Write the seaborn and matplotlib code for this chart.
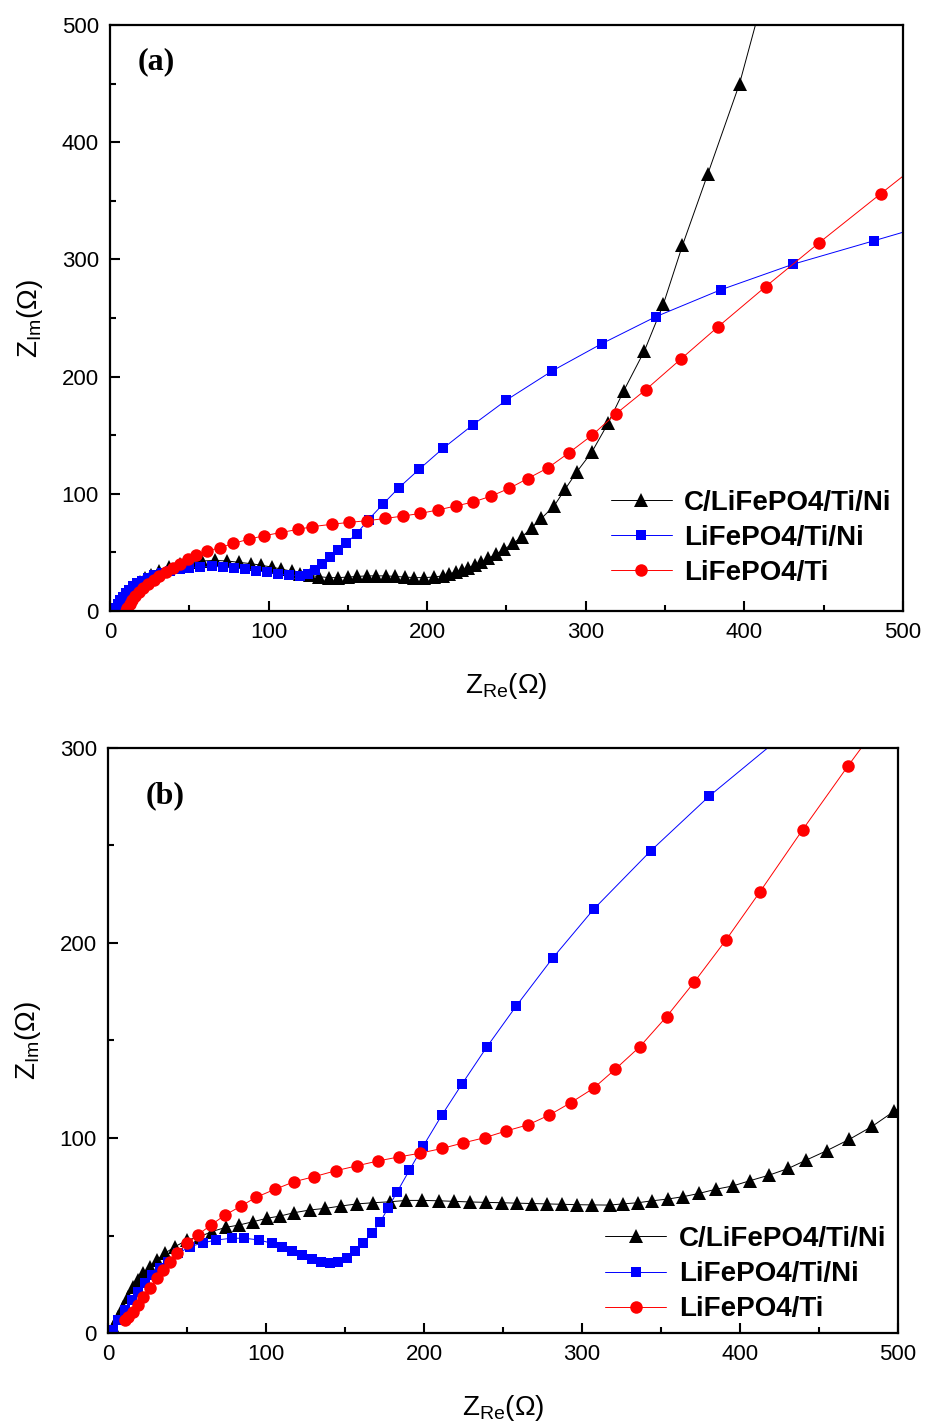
import numpy as np
import pandas as pd
import matplotlib
matplotlib.use("Agg")
import matplotlib.pyplot as plt
from matplotlib.ticker import MultipleLocator
import seaborn as sns

# ---- panel (a) data ----
a_black_x = [6, 7, 8.5, 10, 12, 14, 16.5, 19, 22, 26, 31, 37, 44, 51, 58, 66, 74, 81.5, 89, 95.5,
             102, 108, 114.5, 120, 126, 132, 138, 144, 150, 156, 162, 168, 174, 180, 186, 192, 198,
             204, 210, 214, 218, 222, 226, 230, 234, 238.5, 243.5, 248.5, 254, 259.5, 266, 272, 280,
             287, 294.5, 304, 314, 324, 337, 349, 361, 377, 397, 420]
a_black_y = [0, 3, 7, 11, 15, 19, 22, 25, 28, 31, 34, 37.5, 40, 41.5, 42.7, 43.2, 42.7, 41.5, 40.4, 39,
             37.5, 35.8, 34, 32, 30.5, 29.3, 28.5, 28.5, 29, 29.5, 30, 30, 30, 29.5, 29, 28.5, 28.5,
             29, 30, 31.5, 33.5, 35, 37, 39, 41.5, 45, 48.6, 52.6, 57.7, 63, 71, 79, 89.6,
             104, 119, 136, 160, 188, 222, 262, 312, 373, 450, 565]

a_blue_x = [3, 4, 5, 6.5, 8, 10, 12, 14.5, 17, 20, 24, 28, 33, 38, 44, 50, 57, 64, 71, 78, 85, 92, 99,
            106, 113, 120, 125, 129, 133.5, 138.7, 144, 149, 155.5, 163, 172, 182, 195, 210, 229,
            250, 279, 310, 344, 385, 431, 482, 530]
a_blue_y = [0, 3, 6, 9, 12, 15, 18, 21, 23.5, 26, 28.5, 30.5, 32.5, 34.5, 36, 37, 37.7, 38, 37.8, 37,
            35.8, 34.5, 33, 31.7, 30.7, 30.3, 31.5, 35, 40, 46, 52, 58, 66, 78, 91, 105, 121, 138.8,
            159, 180, 205, 228, 251, 274, 296, 316, 335]

a_red_x = [10, 11, 12.5, 14, 16, 18.5, 21, 24, 27.5, 31, 35, 39.5, 44, 49, 54, 61, 69.4, 77.7, 87.8,
           97.3, 107.8, 118.7, 127.6, 139.8, 151, 161.8, 173.6, 184.5, 195.7, 206.6, 217.9, 229,
           240.2, 251.8, 263.3, 276, 289.4, 304, 318.8, 338, 360, 383.5, 413.4, 447, 486, 530]
a_red_y = [0, 3, 6, 9, 12.5, 16, 19.5, 23, 26.5, 30, 33.5, 37, 40.5, 44, 47.8, 51.2, 54, 57.7, 61.4,
           64.3, 67, 69.7, 72, 74, 75.7, 77, 79, 81, 83.3, 86.2, 89.6, 93,
           98, 104.7, 113, 122, 135, 150, 168, 189, 215, 242.6, 276.7, 314, 356, 403]

# ---- panel (b) data ----
b_black_x = [2.5, 3.4, 6.5, 9.7, 12.9, 16, 19.2, 22.3, 26.6, 30.8, 36.1, 42.4, 50.2, 58.2, 65.6, 74.7,
             83.1, 91.9, 100.4, 108.9, 117.9, 127.8, 137.3, 147.3, 157.4, 167.7, 178.5, 188.8, 198.8,
             209.8, 219.3, 229.1, 239.2, 249.2, 258.7, 268.2, 278.1, 287.6, 296.7, 306.2, 317.5,
             325.7, 335.3, 344.5, 354.2, 364, 374.2, 384.6, 395.4, 406.3, 418.6, 430.6, 442, 454.9,
             469.2, 483.7, 497.7, 512]
b_black_y = [0, 3.2, 8.4, 13.5, 18.6, 23.7, 27.2, 30.6, 34, 37.4, 40.9, 44.3, 47.7, 49.4, 52, 54.2,
             55.4, 57.1, 58.8, 60, 61.7, 63.1, 63.9, 65.1, 66.2, 66.8, 67.3, 68, 68,
             67.8, 67.5, 67.2, 67, 66.8, 66.6, 66.4, 66.2, 66, 65.8, 65.7, 65.6,
             66.2, 66.8, 67.8, 68.7, 69.9, 71.6, 73.7, 75.4, 78.1, 81, 84.4, 88.7, 93.5,
             99.3, 106, 113.8, 122]

b_blue_x = [2, 3.4, 6.5, 10.8, 15, 19.2, 23.4, 27.7, 32.9, 38.2, 44.5, 51.9, 60.3, 68.4, 78.3, 86.3,
            95.8, 103.6, 110, 116.3, 122.6, 129.3, 134.8, 140.5, 145.8, 151.1, 156.3, 161.6, 166.9,
            172.2, 177.1, 183.1, 190.7, 199.6, 211.2, 224, 239.7, 258.4, 281.4, 307.5, 343.6,
            380.7, 425]
b_blue_y = [0, 1.5, 6.7, 11.8, 16.9, 21.2, 25.5, 29.7, 33.2, 36.6, 40.9, 44.3, 46.3, 47.7, 48.6, 48.6,
            47.7, 46, 44.3, 42.2, 40, 37.8, 36.6, 35.7, 36.3, 38.3, 42.2, 46.3, 51.1,
            56.8, 63.9, 72.5, 83.4, 96, 111.6, 127.6, 146.6, 167.7, 192.2, 217.4, 247.3,
            275.4, 305]

b_red_x = [10.8, 12.9, 16, 19.2, 22.3, 26.6, 30.8, 35, 39.2, 43.9, 50.2, 56.8, 65.2, 74.1, 84.2, 93.7,
           105.7, 117.9, 130.6, 144.1, 157.4, 170.7, 184.2, 197.5, 211.7, 224.9, 238.6, 252, 266,
           279.4, 292.9, 307.3, 321.1, 336.6, 353.5, 370.9, 391.1, 412.7, 439.6, 468.4, 495]
b_red_y = [6.7, 8.4, 10.9, 14.4, 18.6, 22.9, 28.1, 32.3, 36.6, 41.2, 46, 50.3, 55.4, 60.5, 65.1, 69.6,
           73.7, 77.6, 80.2, 83.2, 85.7, 88.2, 90.3, 92.2, 94.7, 97.5, 100.2, 103.6, 106.8,
           111.8, 118.1, 125.5, 135.3, 146.8, 162.2, 179.8, 201.5, 226.3, 258, 290.8, 320]

labels = ["C/LiFePO4/Ti/Ni", "LiFePO4/Ti/Ni", "LiFePO4/Ti"]
colors = ["#000000", "#0000ff", "#ff0000"]
markers = ["^", "s", "o"]
msizes = [10, 7.5, 9]

sns.set_style("ticks")
plt.rcParams["font.family"] = ["Liberation Sans", "DejaVu Sans"]
plt.rcParams["mathtext.fontset"] = "custom"
plt.rcParams["mathtext.rm"] = "Liberation Sans"
for k in ["text.color", "axes.labelcolor", "xtick.color", "ytick.color", "axes.edgecolor"]:
    plt.rcParams[k] = "black"

fig = plt.figure(figsize=(9.27, 14.26), dpi=100)
ax_a = fig.add_axes([0.1187, 0.5715, 0.8553, 0.411])
ax_b = fig.add_axes([0.1165, 0.0652, 0.8522, 0.4103])

panels = [
    (ax_a, [(a_black_x, a_black_y), (a_blue_x, a_blue_y), (a_red_x, a_red_y)], 500,
     "(a)", (0.035, 0.937), (0.986, 0.043)),
    (ax_b, [(b_black_x, b_black_y), (b_blue_x, b_blue_y), (b_red_x, b_red_y)], 300,
     "(b)", (0.047, 0.918), (0.985, 0.018)),
]

for ax, series, ymax, tag, tpos, lpos in panels:
    for (xs, ys), lab, c, m, ms in zip(series, labels, colors, markers, msizes):
        df = pd.DataFrame({"x": xs, "y": ys})
        sns.lineplot(data=df, x="x", y="y", sort=False, estimator=None, ax=ax,
                     color=c, marker=m, markersize=ms, markeredgewidth=0,
                     linewidth=0.7, label=lab)
    ax.set_xlim(0, 500)
    ax.set_ylim(0, ymax)
    ax.xaxis.set_major_locator(MultipleLocator(100))
    ax.xaxis.set_minor_locator(MultipleLocator(50))
    ax.yaxis.set_major_locator(MultipleLocator(100))
    ax.yaxis.set_minor_locator(MultipleLocator(50))
    ax.tick_params(which="both", direction="in", top=False, right=False, labelsize=16, pad=8,
                   width=1.5, color="black", labelcolor="black")
    ax.tick_params(which="major", length=7)
    ax.tick_params(which="minor", length=4)
    for s in ax.spines.values():
        s.set_linewidth(1.6)
        s.set_color("black")
        s.set_visible(True)
    ax.set_xlabel(r"Z$_{\mathrm{Re}}$(Ω)", fontsize=20, labelpad=20)
    ax.set_ylabel(r"Z$_{\mathrm{Im}}$(Ω)", fontsize=20, labelpad=12)
    ax.text(tpos[0], tpos[1], tag, transform=ax.transAxes, fontsize=23, fontweight="bold",
            family="Liberation Serif", va="center", ha="left")
    ax.legend(loc="lower right", bbox_to_anchor=lpos, frameon=False,
              prop={"weight": "bold", "size": 20},
              handlelength=2.2, handletextpad=0.45, labelspacing=0.33, borderpad=0, borderaxespad=0)

fig.savefig("out.png", dpi=100)
